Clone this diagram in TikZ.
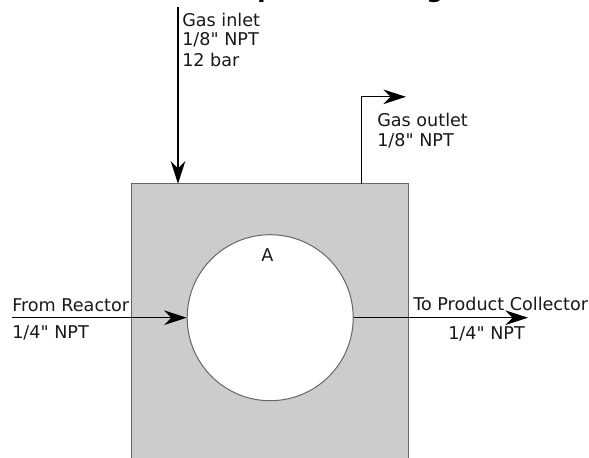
\documentclass[tikz,border=0pt]{standalone}
\usepackage{fontspec}
\newfontfamily\lblfont{DejaVu Sans}
\usetikzlibrary{arrows.meta}
\tikzset{
 lbl/.style={inner sep=0pt,anchor=base west,font=\lblfont\fontsize{13.2}{13}\selectfont,text=black!90},
 ttl/.style={inner sep=0pt,anchor=base west,font=\lblfont\bfseries\fontsize{18}{18}\selectfont,text=black},
 flow/.style={draw=black,line width=0.85pt,-{Stealth[length=17pt,width=11pt,inset=5.5pt]}},
}
\begin{document}
\begin{tikzpicture}[x=0.75pt,y=-0.75pt]
\useasboundingbox (0,0) rectangle (589,457);
\clip (0,0) rectangle (589,457);
\fill[white] (0,0) rectangle (589,457);
\node[ttl] (p) at (257,-2.7) {p};
\node[ttl] (g) at (426,-2.7) {g};
\draw[fill=black!20,draw=black!60,line width=0.75pt] (131.7,183.7) -- (408.7,183.7) -- (408.7,470) -- (131.7,470) -- cycle;
\node[circle,draw=black!60,fill=white,line width=0.75pt,minimum size=124.5pt,inner sep=0pt] (hole) at (270.2,317.7) {};
\coordinate (inA) at (178,7);
\coordinate (inB) at (178,183.7);
\coordinate (outA) at (361.7,183.7);
\coordinate (outB) at (361.7,96.8);
\coordinate (outC) at (406,96.8);
\coordinate (fromA) at (12,317.7);
\coordinate (toB) at (528,317.7);
\draw[flow] (inA) -- (inB);
\draw[flow] (outA) -- (outB) -- (outC);
\draw[flow] (fromA) -- (hole.west);
\draw[flow] (hole.east) -- (toB);
\node[lbl] (t1) at (182,26.7) {Gas inlet};
\node[lbl] (t2) at (182,45) {1/8" NPT};
\node[lbl] (t3) at (182,66.7) {12 bar};
\node[lbl] (t4) at (377,126) {Gas outlet};
\node[lbl] (t5) at (377,146.7) {1/8" NPT};
\node[lbl] (t6) at (261,261) {A};
\node[lbl] (t7) at (12,311.7) {From Reactor};
\node[lbl] (t8) at (12,338) {1/4" NPT};
\node[lbl] (t9) at (413,310) {To Product Collector};
\node[lbl] (t10) at (448,339) {1/4" NPT};
\end{tikzpicture}
\end{document}
